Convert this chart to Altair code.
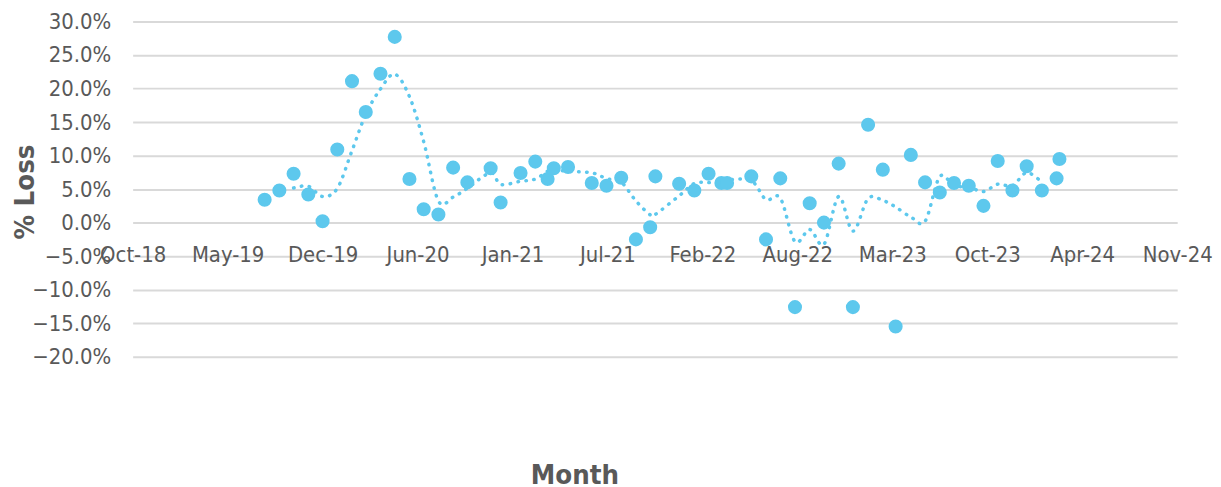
import altair as alt
import pandas as pd

# ---- data ----
dates = [
    "2019-08-01", "2019-09-01", "2019-10-01", "2019-11-01", "2019-12-01",
    "2020-01-01", "2020-02-01", "2020-03-01", "2020-04-01", "2020-05-01",
    "2020-06-01", "2020-07-01", "2020-08-01", "2020-09-01", "2020-10-01",
    "2020-11-19", "2020-12-10", "2021-01-21", "2021-02-21", "2021-03-19",
    "2021-04-01", "2021-05-01", "2021-06-20", "2021-07-21", "2021-08-21",
    "2021-09-21", "2021-10-21", "2021-11-01", "2021-12-21", "2022-01-22",
    "2022-02-21", "2022-03-20", "2022-04-01", "2022-05-22", "2022-06-22",
    "2022-07-22", "2022-08-22", "2022-09-22", "2022-10-22", "2022-11-22",
    "2022-12-22", "2023-01-23", "2023-02-23", "2023-03-22", "2023-04-23",
    "2023-05-23", "2023-06-23", "2023-07-23", "2023-08-23", "2023-09-23",
    "2023-10-23", "2023-11-23", "2023-12-23", "2024-01-24", "2024-02-24",
    "2024-03-01",
]
loss_pct = [
    3.4, 4.8, 7.3, 4.2, 0.2,
    10.9, 21.1, 16.5, 22.2, 27.7,
    6.5, 2.0, 1.2, 8.2, 6.0,
    8.1, 3.0, 7.4, 9.1, 6.5,
    8.1, 8.3, 5.9, 5.5, 6.7,
    -2.5, -0.7, 6.9, 5.8, 4.8,
    7.3, 5.9, 5.9, 6.9, -2.5,
    6.6, -12.6, 2.9, 0.0, 8.8,
    -12.6, 14.6, 7.9, -15.5, 10.1,
    6.0, 4.5, 5.9, 5.5, 2.5,
    9.2, 4.8, 8.4, 4.8, 6.6,
    9.5,
]
# moving-average trendline (3 periods) covers the series up to this date
trend_last_date = "2024-01-24"
trend_period = 3

# axis ticks (Excel date axis: every 200 days from the minimum)
x_tick_dates = [
    "2018-10-27", "2019-05-15", "2019-12-01", "2020-06-18", "2021-01-04",
    "2021-07-23", "2022-02-08", "2022-08-27", "2023-03-15", "2023-10-01",
    "2024-04-18", "2024-11-04",
]
y_ticks = [-20, -15, -10, -5, 0, 5, 10, 15, 20, 25, 30]

# ---- tables ----
df = pd.DataFrame({"date": dates, "loss": loss_pct})
tr = df[pd.to_datetime(df["date"]) <= pd.Timestamp(trend_last_date)].copy()
tr["ma"] = tr["loss"].rolling(trend_period).mean()
tr = tr.dropna()


def ms(s):
    return int(pd.Timestamp(s, tz="UTC").value // 10**6)


x_values = [ms(d) for d in x_tick_dates]
x_domain = [x_values[0], x_values[-1]]

FONT = "DejaVu Sans Condensed"
TXT = "#595959"
BLUE = "#5DC8ED"
W, H = 1050, 337
zero_offset = -H * (0 - y_ticks[0]) / (y_ticks[-1] - y_ticks[0])

x_enc = alt.X(
    "date:T",
    scale=alt.Scale(type="utc", domain=x_domain),
    axis=alt.Axis(
        values=x_values, labelExpr="utcFormat(datum.value, '%b-%y')",
        offset=zero_offset, grid=False, domain=False, ticks=False, tickSize=0,
        labelFont=FONT, labelFontSize=22, labelColor=TXT,
        labelBaseline="alphabetic", labelPadding=39,
        labelOverlap=False, labelFlush=False, labelBound=False,
        title="Month", titleFont=FONT, titleFontSize=27.5, titleFontWeight="bold",
        titleColor=TXT, titleX=444, titleY=262, titleAlign="center",
        titleBaseline="alphabetic",
    ),
)
y_scale = alt.Scale(domain=[y_ticks[0], y_ticks[-1]], nice=False, zero=False)
y_axis = alt.Axis(
    values=y_ticks, labelExpr="format(datum.value, '.1f') + '%'",
    grid=True, gridColor="#d9d9d9", gridWidth=2, domain=False, ticks=False, tickSize=0,
    labelFont=FONT, labelFontSize=22, labelColor=TXT, labelPadding=22,
    title="% Loss", titleFont=FONT, titleFontSize=27.5, titleFontWeight="bold",
    titleColor=TXT, titleAngle=270, titleX=-100, titleY=171, titleAlign="center",
    titleBaseline="alphabetic",
)

trend = alt.Chart(tr).mark_line(
    color=BLUE, strokeWidth=3.5, strokeDash=[0.5, 7.5], strokeCap="round",
    interpolate="cardinal",
).encode(
    x=x_enc,
    y=alt.Y("ma:Q", scale=y_scale, axis=y_axis),
)

points = alt.Chart(df).mark_circle(color=BLUE, size=200, opacity=1).encode(
    x=x_enc,
    y=alt.Y("loss:Q", scale=y_scale, axis=y_axis),
)

chart = alt.layer(trend, points).properties(
    width=W, height=H,
    autosize=alt.AutoSizeParams(type="none"),
    padding={"left": 125.3, "top": 12.3, "right": 36, "bottom": 128},
    background="white",
).configure_view(stroke=None)

chart.save("out.html", embed_options={"renderer": "svg", "actions": False})
